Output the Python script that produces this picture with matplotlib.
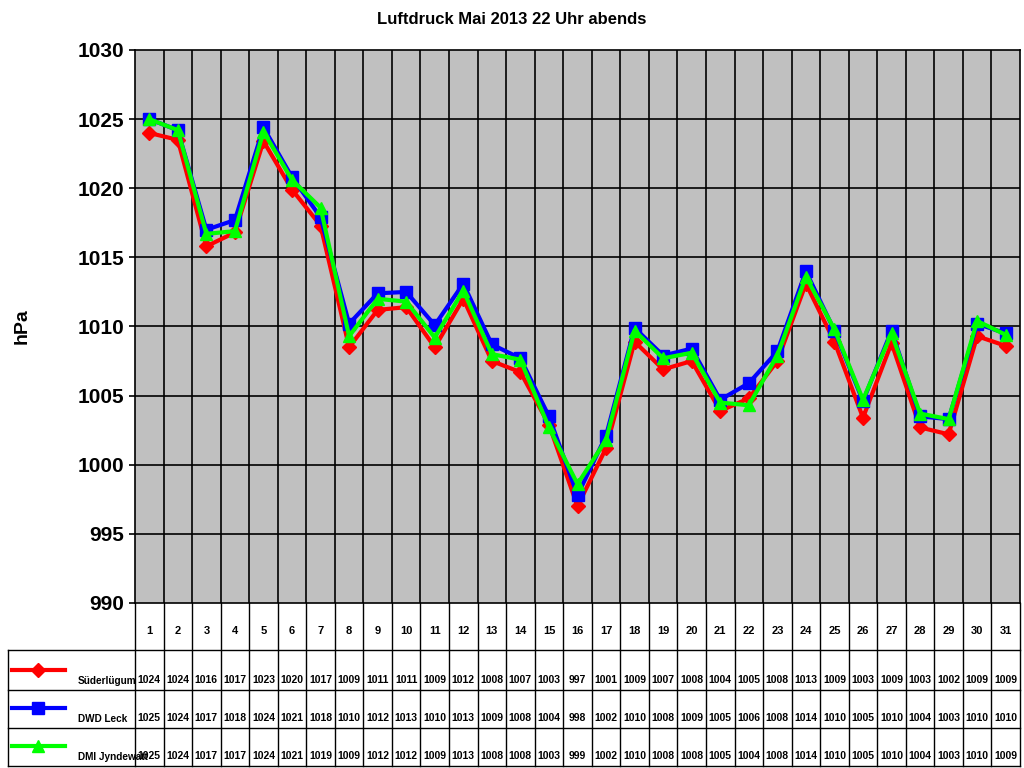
import matplotlib
matplotlib.use("Agg")
import matplotlib.pyplot as plt
import numpy as np

plt.rcParams['font.family'] = ['Liberation Sans', 'DejaVu Sans']
plt.rcParams['font.weight'] = 'bold'

days = list(range(1, 32))
names = ["Süderlügum", "DWD Leck", "DMI Jyndewatt"]
colors = ["#ff0000", "#0000ff", "#00ff00"]
markers = ["D", "s", "^"]
sued = [1024.0,1023.5,1015.8,1016.8,1023.4,1019.9,1017.3,1008.5,1011.2,1011.4,1008.5,1012.0,1007.5,1006.7,1002.9,997.0,1001.2,1008.9,1006.9,1007.5,1003.9,1004.8,1007.5,1013.1,1008.9,1003.4,1008.8,1002.7,1002.2,1009.3,1008.6]
leck = [1025.0,1024.2,1017.0,1017.7,1024.4,1020.8,1017.9,1010.2,1012.4,1012.5,1010.1,1013.1,1008.7,1007.7,1003.5,997.8,1002.1,1009.9,1007.9,1008.4,1004.7,1005.9,1008.2,1014.0,1009.7,1004.6,1009.7,1003.5,1003.3,1010.2,1009.5]
jynd = [1025.0,1024.2,1016.7,1016.9,1024.1,1020.6,1018.6,1009.3,1012.0,1011.8,1009.2,1012.6,1008.0,1007.6,1002.7,998.6,1001.8,1009.7,1007.7,1008.1,1004.5,1004.3,1007.9,1013.6,1009.8,1004.7,1009.5,1003.7,1003.3,1010.4,1009.4]
table_sued = [1024,1024,1016,1017,1023,1020,1017,1009,1011,1011,1009,1012,1008,1007,1003,997,1001,1009,1007,1008,1004,1005,1008,1013,1009,1003,1009,1003,1002,1009,1009]
table_leck = [1025,1024,1017,1018,1024,1021,1018,1010,1012,1013,1010,1013,1009,1008,1004,998,1002,1010,1008,1009,1005,1006,1008,1014,1010,1005,1010,1004,1003,1010,1010]
table_jynd = [1025,1024,1017,1017,1024,1021,1019,1009,1012,1012,1009,1013,1008,1008,1003,999,1002,1010,1008,1008,1005,1004,1008,1014,1010,1005,1010,1004,1003,1010,1009]
series = [sued, leck, jynd]
tables = [table_sued, table_leck, table_jynd]

fig = plt.figure(figsize=(10.24, 7.68), dpi=100)
L, R, T, B = 135/1024, 1020/1024, 1-50/768, 1-603/768
ax = fig.add_axes([L, B, R-L, T-B])
ax.set_facecolor("#c0c0c0")
ax.set_xlim(0.5, 31.5)
ax.set_ylim(990, 1030)
ax.set_yticks(range(990, 1031, 5))
ax.set_xticks([])
for v in range(995, 1030, 5):
    ax.axhline(v, color="black", lw=1.2, zorder=1)
for d in np.arange(1.5, 31.5, 1):
    ax.axvline(d, color="black", lw=1.2, zorder=1)
for s in ax.spines.values():
    s.set_linewidth(1.2)
ax.tick_params(axis='y', labelsize=15, length=4, width=1.2)
for lab in ax.get_yticklabels():
    lab.set_fontweight('bold')
fig.text(22/1024, 1-326/768, "hPa", rotation=90, ha='center', va='center', fontsize=14, fontweight='bold')
fig.text(0.5, 1-20/768, "Luftdruck Mai 2013 22 Uhr abends", ha='center', va='center', fontsize=12, fontweight='bold')

for vals, c, m in zip(series, colors, markers):
    ax.plot(days, vals, color=c, lw=3, marker=m, ms=8 if m != "D" else 7, zorder=3)

tr = ax.transAxes
H = T - B
def ay(px):
    return ((1-px/768) - B) / H
def ax_x(px):
    return (px/1024 - L) / (R - L)
rows_y = [603, 650, 690, 728, 766]
lk = dict(color="black", lw=1, transform=tr, clip_on=False)
x0 = ax_x(8)
for yy in rows_y[1:]:
    ax.plot([x0, 1], [ay(yy), ay(yy)], **lk)
ax.plot([x0, x0], [ay(650), ay(766)], **lk)
ax.plot([0, 0], [ay(603), ay(766)], **lk)
for d in np.arange(1.5, 32.5, 1):
    xf = (d - 0.5) / 31
    ax.plot([xf, xf], [ay(603), ay(766)], **lk)
bt = ax.get_xaxis_transform()
for d in days:
    ax.text(d, ay(631), str(d), transform=bt, ha='center', va='center', fontsize=8, fontweight='bold')
for r, (tab, name, c, m) in enumerate(zip(tables, names, colors, markers)):
    ybot = rows_y[r+2]
    for d, v in zip(days, tab):
        ax.text(d, ay(ybot-10), str(v), transform=bt, ha='center', va='center', fontsize=7.5, fontweight='bold')
    ax.text(ax_x(78), ay(ybot-9), name, transform=tr, ha='left', va='center', fontsize=7.2, fontweight='bold')
    ym = ay(ybot-20)
    ax.plot([ax_x(12), ax_x(65)], [ym, ym], color=c, lw=3, transform=tr, clip_on=False)
    ax.plot([ax_x(38)], [ym], color=c, marker=m, ms=8 if m != "D" else 7, transform=tr, clip_on=False)

fig.savefig("out.png", dpi=100)
